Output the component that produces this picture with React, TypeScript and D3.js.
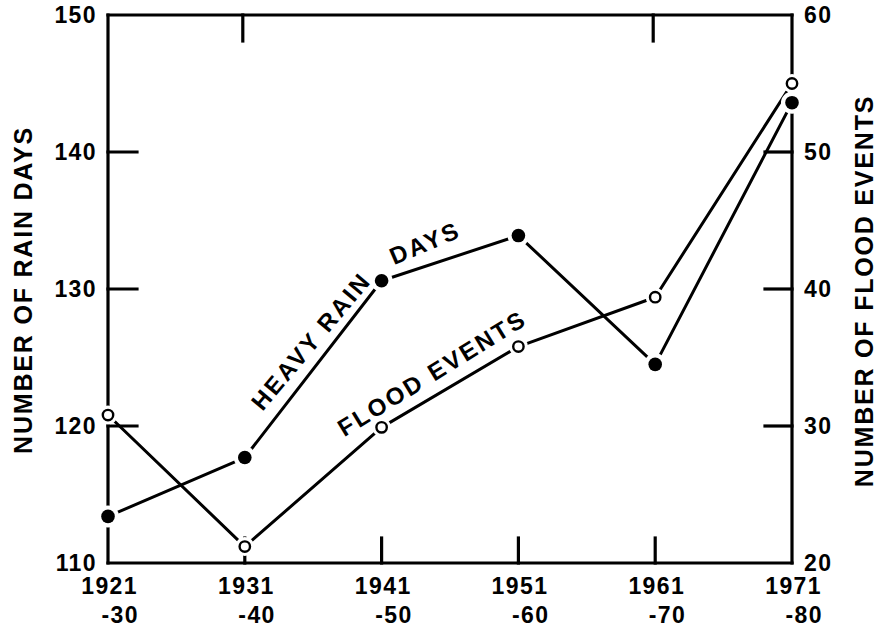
import React from "react";
import * as d3 from "d3";

const periods = ["1921", "1931", "1941", "1951", "1961", "1971"];
const periodEnds = ["-30", "-40", "-50", "-60", "-70", "-80"];
const heavyRainDays = [113.4, 117.7, 130.6, 133.9, 124.5, 143.6];
const floodEvents = [30.8, 21.2, 29.9, 35.8, 39.4, 55.0];
const leftTicks = [110, 120, 130, 140, 150];
const rightTicks = [20, 30, 40, 50, 60];
const topTickPeriods = ["1931", "1961"];
const bottomTickPeriods = ["1931", "1941", "1951", "1961"];

const W = 877;
const H = 628;
const L = 108, R = 792, T = 15, B = 563;
const FONT = "'Liberation Sans', Arial, Helvetica, sans-serif";

export default function App() {
  const x = d3.scalePoint<string>().domain(periods).range([L, R]).padding(0);
  const yL = d3.scaleLinear().domain([110, 150]).range([B, T]);
  const yR = d3.scaleLinear().domain([20, 60]).range([B, T]);

  const rainPts: [number, number][] = periods.map((p, i) => [x(p)!, yL(heavyRainDays[i])]);
  const floodPts: [number, number][] = periods.map((p, i) => [x(p)!, yR(floodEvents[i])]);
  const line = d3.line();

  const tickLen = 27;
  const sw = 3.2;

  return (
    <svg width={W} height={H} style={{ position: "absolute", left: 0, top: 0, background: "#fff" }}>
      <rect x={0} y={0} width={W} height={H} fill="#fff" />
      <g stroke="#000" strokeWidth={sw} fill="none" strokeLinecap="square">
        <line x1={L} y1={T} x2={R} y2={T} />
        <line x1={L} y1={B} x2={R} y2={B} />
        <line x1={L} y1={T} x2={L} y2={B} />
        <line x1={R} y1={T} x2={R} y2={B} />
        {leftTicks.slice(1, -1).map((v) => (
          <line key={"lt" + v} x1={L} y1={yL(v)} x2={L + tickLen + 2} y2={yL(v)} />
        ))}
        {rightTicks.slice(1, -1).map((v) => (
          <line key={"rt" + v} x1={R} y1={yR(v)} x2={R - tickLen} y2={yR(v)} />
        ))}
        {topTickPeriods.map((p) => (
          <line key={"tt" + p} x1={x(p)! - 2} y1={T} x2={x(p)! - 2} y2={T + 26} />
        ))}
        {bottomTickPeriods.map((p) => (
          <line key={"bt" + p} x1={x(p)!} y1={B} x2={x(p)!} y2={B - 25} />
        ))}
      </g>
      <path d={line(rainPts)!} stroke="#000" strokeWidth={3} fill="none" strokeLinejoin="round" />
      <path d={line(floodPts)!} stroke="#000" strokeWidth={3} fill="none" strokeLinejoin="round" />
      {rainPts.map(([cx, cy], i) => (
        <circle key={"rh" + i} cx={cx} cy={cy} r={11} fill="#fff" />
      ))}
      {floodPts.map(([cx, cy], i) => (
        <circle key={"fh" + i} cx={cx} cy={cy} r={9.5} fill="#fff" />
      ))}
      {rainPts.map(([cx, cy], i) => (
        <circle key={"r" + i} cx={cx} cy={cy} r={6.8} fill="#000" />
      ))}
      {floodPts.map(([cx, cy], i) => (
        <circle key={"f" + i} cx={cx} cy={cy} r={5.2} fill="#fff" stroke="#000" strokeWidth={2.4} />
      ))}
      <g fontFamily={FONT} fontWeight="bold" fontSize={23} fill="#000" style={{ letterSpacing: "1.4px" }}>
        {leftTicks.map((v) => (
          <text key={"ll" + v} x={97} y={yL(v)} textAnchor="end" dominantBaseline="central">
            {v}
          </text>
        ))}
        {rightTicks.map((v) => (
          <text key={"rl" + v} x={804} y={yR(v)} textAnchor="start" dominantBaseline="central">
            {v}
          </text>
        ))}
        {periods.map((p, i) => (
          <g key={"xl" + p}>
            <text x={x(p)! + 30} y={594} textAnchor="end">
              {p}
            </text>
            <text x={x(p)! + 31} y={623} textAnchor="end">
              {periodEnds[i]}
            </text>
          </g>
        ))}
      </g>
      <g fontFamily={FONT} fontWeight="bold" fontSize={25} fill="#000" style={{ letterSpacing: "1.8px" }}>
        <text transform="translate(23,290) rotate(-90)" textAnchor="middle" dominantBaseline="central">
          NUMBER OF RAIN DAYS
        </text>
        <text transform="translate(864,291) rotate(-90)" textAnchor="middle" dominantBaseline="central">
          NUMBER OF FLOOD EVENTS
        </text>
      </g>
      <g fontFamily={FONT} fontWeight="bold" fontSize={24} fill="#000" style={{ letterSpacing: "2.5px" }}>
        <text transform="translate(311,341) rotate(-50)" textAnchor="middle" dominantBaseline="central">
          HEAVY RAIN
        </text>
        <text transform="translate(425,243) rotate(-23)" textAnchor="middle" dominantBaseline="central">
          DAYS
        </text>
        <text transform="translate(432,373) rotate(-31.7)" textAnchor="middle" dominantBaseline="central">
          FLOOD EVENTS
        </text>
      </g>
    </svg>
  );
}
